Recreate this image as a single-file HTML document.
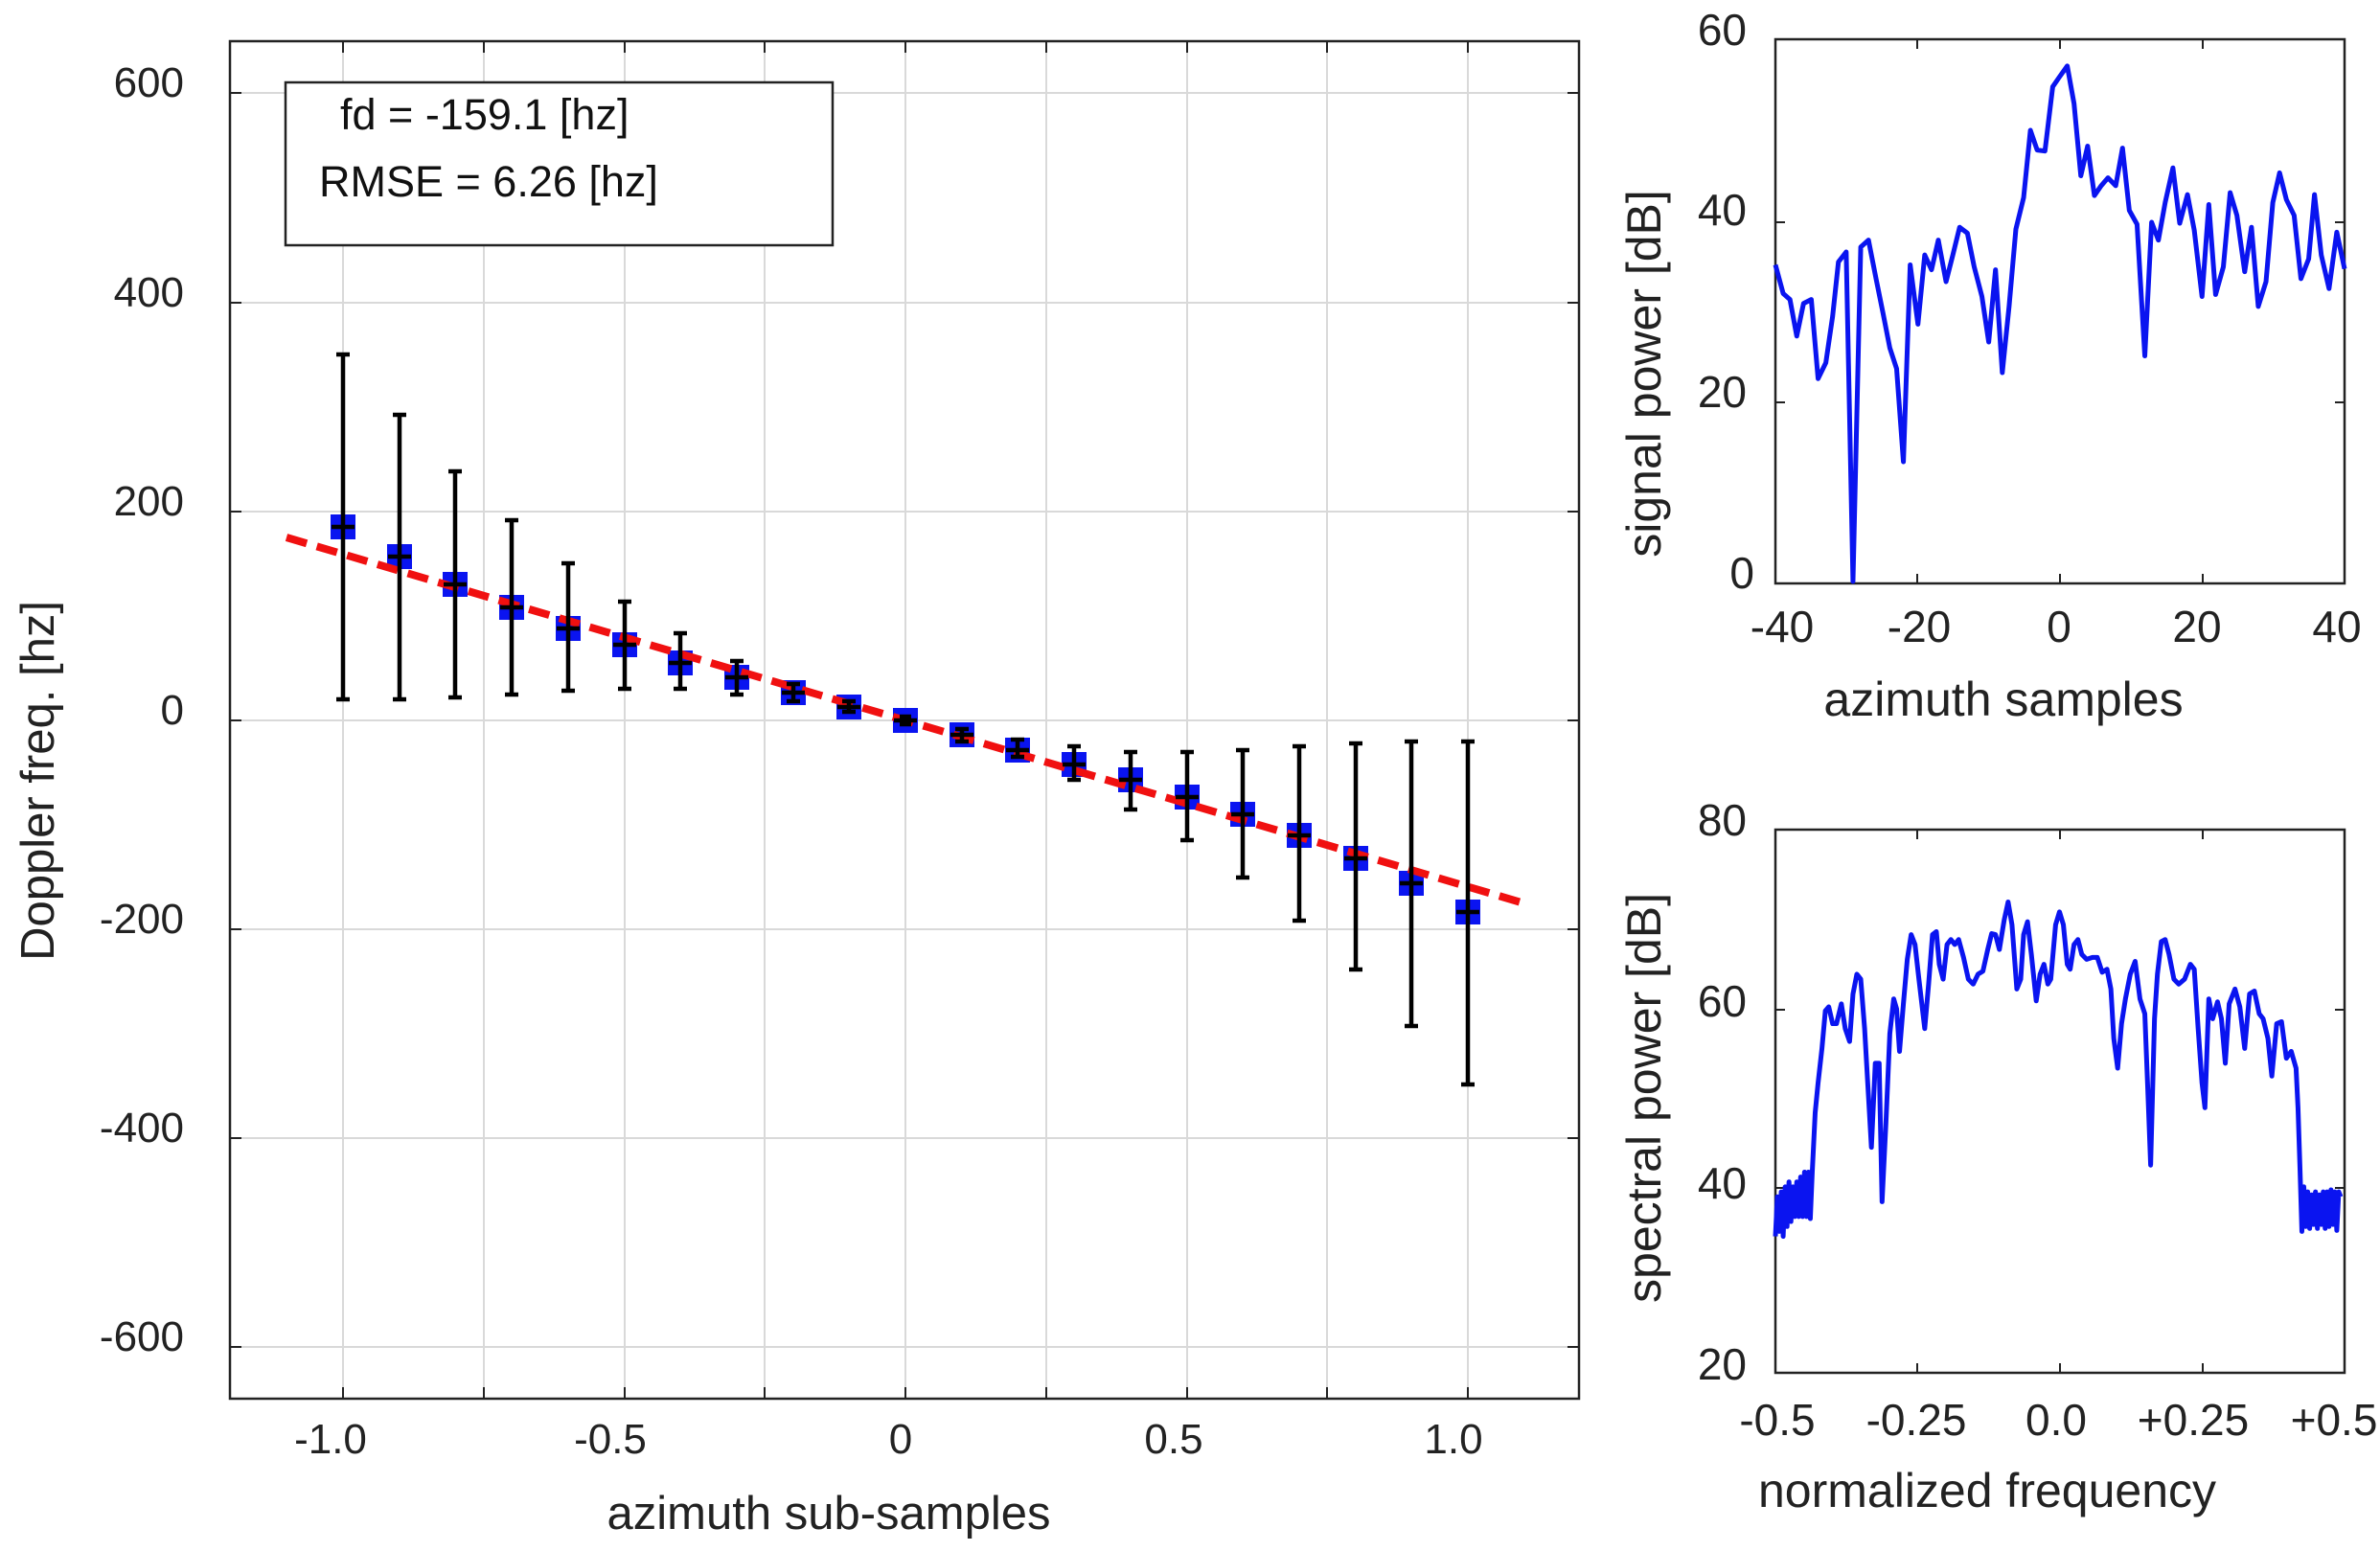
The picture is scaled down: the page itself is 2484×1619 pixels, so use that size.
<!DOCTYPE html>
<html><head><meta charset="utf-8"><style>
html,body{margin:0;padding:0;background:#fff;}
svg{display:block;font-family:"Liberation Sans",Arial,sans-serif;}
</style></head><body>
<svg width="2484" height="1619" viewBox="0 0 2484 1619" xmlns="http://www.w3.org/2000/svg">
<rect width="2484" height="1619" fill="#fff"/>
<!-- MAIN PLOT -->
<g stroke="#d9d9d9" stroke-width="2">
<line x1="358" y1="43" x2="358" y2="1460"/><line x1="505" y1="43" x2="505" y2="1460"/><line x1="652" y1="43" x2="652" y2="1460"/><line x1="798" y1="43" x2="798" y2="1460"/><line x1="945" y1="43" x2="945" y2="1460"/><line x1="1092" y1="43" x2="1092" y2="1460"/><line x1="1239" y1="43" x2="1239" y2="1460"/><line x1="1385" y1="43" x2="1385" y2="1460"/><line x1="1532" y1="43" x2="1532" y2="1460"/>
<line x1="240" y1="97" x2="1648" y2="97"/><line x1="240" y1="316" x2="1648" y2="316"/><line x1="240" y1="534" x2="1648" y2="534"/><line x1="240" y1="752" x2="1648" y2="752"/><line x1="240" y1="970" x2="1648" y2="970"/><line x1="240" y1="1188" x2="1648" y2="1188"/><line x1="240" y1="1406" x2="1648" y2="1406"/>
</g>
<g stroke="#222" stroke-width="2">
<path d="M358 43v12M505 43v12M652 43v12M798 43v12M945 43v12M1092 43v12M1239 43v12M1385 43v12M1532 43v12"/>
<path d="M358 1460v-12M505 1460v-12M652 1460v-12M798 1460v-12M945 1460v-12M1092 1460v-12M1239 1460v-12M1385 1460v-12M1532 1460v-12"/>
<path d="M240 97h12M240 316h12M240 534h12M240 752h12M240 970h12M240 1188h12M240 1406h12"/>
<path d="M1648 97h-12M1648 316h-12M1648 534h-12M1648 752h-12M1648 970h-12M1648 1188h-12M1648 1406h-12"/>
</g>
<rect x="240" y="43" width="1408" height="1417" fill="none" stroke="#222" stroke-width="2.5"/>
<g font-size="44" fill="#222" text-anchor="end">
<text x="192" y="101">600</text><text x="192" y="320">400</text><text x="192" y="538">200</text><text x="192" y="756">0</text><text x="192" y="974">-200</text><text x="192" y="1192">-400</text><text x="192" y="1410">-600</text>
</g>
<g font-size="44" fill="#222" text-anchor="middle">
<text x="345" y="1517">-1.0</text><text x="637" y="1517">-0.5</text><text x="940" y="1517">0</text><text x="1225" y="1517">0.5</text><text x="1517" y="1517">1.0</text>
<text x="865" y="1596" font-size="49">azimuth sub-samples</text>
<text transform="translate(56,815) rotate(-90)" font-size="49">Doppler freq. [hz]</text>
</g>
<rect x="298" y="86" width="571" height="170" fill="#fff" stroke="#222" stroke-width="2.5"/>
<text x="355" y="135" font-size="45" fill="#111">fd = -159.1 [hz]</text>
<text x="333" y="205" font-size="45" fill="#111">RMSE = 6.26 [hz]</text>
<!-- squares -->
<g fill="#0a14f0">
<rect x="345" y="537" width="26" height="26"/><rect x="404" y="568" width="26" height="26"/><rect x="462" y="597" width="26" height="26"/><rect x="521" y="621" width="26" height="26"/><rect x="580" y="643" width="26" height="26"/><rect x="639" y="660" width="26" height="26"/><rect x="697" y="679" width="26" height="26"/><rect x="756" y="694" width="26" height="26"/><rect x="815" y="710" width="26" height="26"/><rect x="873" y="725" width="26" height="26"/><rect x="932" y="739" width="26" height="26"/><rect x="991" y="754" width="26" height="26"/><rect x="1049" y="770" width="26" height="26"/><rect x="1108" y="785" width="26" height="26"/><rect x="1167" y="801" width="26" height="26"/><rect x="1226" y="819" width="26" height="26"/><rect x="1284" y="837" width="26" height="26"/><rect x="1343" y="859" width="26" height="26"/><rect x="1402" y="883" width="26" height="26"/><rect x="1460" y="909" width="26" height="26"/><rect x="1519" y="939" width="26" height="26"/>
</g>
<!-- red fit -->
<line x1="299" y1="561" x2="1591" y2="943" stroke="#f01010" stroke-width="8" stroke-dasharray="22 11"/>
<!-- error bars -->
<g stroke="#000" stroke-width="4.5" fill="none">
<path d="M358 370V730M351 370h14M351 730h14M346 550h24"/>
<path d="M417 433V730M410 433h14M410 730h14M405 581h24"/>
<path d="M475 492V728M468 492h14M468 728h14M463 610h24"/>
<path d="M534 543V725M527 543h14M527 725h14M522 634h24"/>
<path d="M593 588V721M586 588h14M586 721h14M581 656h24"/>
<path d="M652 628V719M645 628h14M645 719h14M640 673h24"/>
<path d="M710 661V719M703 661h14M703 719h14M698 692h24"/>
<path d="M769 690V725M762 690h14M762 725h14M757 707h24"/>
<path d="M828 714V732M821 714h14M821 732h14M816 723h24"/>
<path d="M886 732V743M879 732h14M879 743h14M874 738h24"/>
<path d="M945 748V756M939 748h12M939 756h12M933 752h24"/>
<path d="M1004 761V774M997 761h14M997 774h14M992 767h24"/>
<path d="M1062 772V790M1055 772h14M1055 790h14M1050 783h24"/>
<path d="M1121 779V814M1114 779h14M1114 814h14M1109 798h24"/>
<path d="M1180 785V845M1173 785h14M1173 845h14M1168 814h24"/>
<path d="M1239 785V877M1232 785h14M1232 877h14M1227 832h24"/>
<path d="M1297 783V916M1290 783h14M1290 916h14M1285 850h24"/>
<path d="M1356 779V961M1349 779h14M1349 961h14M1344 872h24"/>
<path d="M1415 776V1012M1408 776h14M1408 1012h14M1403 896h24"/>
<path d="M1473 774V1071M1466 774h14M1466 1071h14M1461 922h24"/>
<path d="M1532 774V1132M1525 774h14M1525 1132h14M1520 952h24"/>
</g>
<!-- RIGHT PLOTS -->
<g stroke="#222" stroke-width="2">
<path d="M2001 41v10M2150 41v10M2299 41v10M2001 609v-10M2150 609v-10M2299 609v-10"/>
<path d="M1853 232h10M1853 420h10M2447 232h-10M2447 420h-10"/>
<path d="M2001 866v10M2150 866v10M2299 866v10M2001 1433v-10M2150 1433v-10M2299 1433v-10"/>
<path d="M1853 1054h10M1853 1240h10M2447 1054h-10M2447 1240h-10"/>
</g>
<rect x="1853" y="41" width="594" height="568" fill="none" stroke="#222" stroke-width="2.5"/>
<rect x="1853" y="866" width="594" height="567" fill="none" stroke="#222" stroke-width="2.5"/>
<g font-size="46" fill="#222" text-anchor="end">
<text x="1823" y="47">60</text><text x="1823" y="235">40</text><text x="1823" y="425">20</text><text x="1831" y="614">0</text>
<text x="1823" y="872">80</text><text x="1823" y="1061">60</text><text x="1823" y="1251">40</text><text x="1823" y="1440">20</text>
</g>
<g font-size="46" fill="#222" text-anchor="middle">
<text x="1860" y="670">-40</text><text x="2003" y="670">-20</text><text x="2149" y="670">0</text><text x="2293" y="670">20</text><text x="2439" y="670">40</text>
<text x="2091" y="747" font-size="50">azimuth samples</text>
<text x="1855" y="1498">-0.5</text><text x="2000" y="1498">-0.25</text><text x="2146" y="1498">0.0</text><text x="2289" y="1498">+0.25</text><text x="2436" y="1498">+0.5</text>
<text x="2074" y="1573" font-size="50">normalized frequency</text>
<text transform="translate(1733,390) rotate(-90)" font-size="50">signal power [dB]</text>
<text transform="translate(1733,1146) rotate(-90)" font-size="50">spectral power [dB]</text>
</g>
<g transform="matrix(0.50596 0 0 1.0327 1700.2 -0.31)" fill="none" stroke="#0a14f0" stroke-width="5" stroke-linejoin="round" >
<polyline vector-effect="non-scaling-stroke" points="302,268 318,297 332,303 346,340 360,307 376,303 390,383 406,367 420,320 432,265 448,255 462,588 478,250 494,243 510,283 524,317 538,352 552,373 566,467 580,268 596,328 610,258 624,273 638,243 654,285 668,258 682,230 698,236 712,270 728,300 742,346 756,273 770,377 784,310 798,232 814,200 828,132 842,152 858,153 874,88 888,78 904,67 918,105 932,178 946,148 960,198 974,188 988,180 1004,188 1018,150 1032,213 1048,227 1064,360 1078,225 1092,243 1106,205 1122,170 1136,226 1152,197 1166,233 1182,300 1196,207 1210,298 1226,270 1240,195 1254,218 1270,275 1284,230 1298,310 1314,285 1328,205 1342,175 1356,202 1372,218 1386,282 1402,262 1414,197 1428,258 1444,292 1460,235 1476,272"/>
<polyline vector-effect="non-scaling-stroke" points="302,1250 306,1210 310,1245 314,1205 318,1250 322,1200 326,1240 330,1195 334,1235 338,1200 342,1230 346,1195 350,1230 354,1190 358,1230 362,1185 366,1230 370,1185 374,1232 378,1185 384,1125 390,1095 398,1060 405,1022 412,1018 420,1035 428,1035 438,1015 446,1040 455,1053 462,1005 470,985 478,990 486,1040 500,1160 508,1075 516,1075 522,1215 530,1135 538,1045 546,1010 552,1020 558,1063 566,1015 574,970 582,945 590,955 598,990 610,1040 618,995 626,945 634,942 640,975 648,990 656,955 664,950 672,955 680,950 690,968 700,990 710,995 720,985 730,982 740,960 748,944 756,945 764,960 774,930 782,912 790,935 800,1000 808,990 814,945 822,932 830,965 840,1012 848,985 856,975 864,995 870,990 880,935 888,922 896,935 904,975 910,980 918,955 926,950 934,965 944,970 956,968 966,968 976,983 986,980 994,1000 1000,1050 1008,1080 1016,1035 1024,1010 1034,985 1044,972 1054,1010 1064,1025 1070,1100 1076,1178 1084,1030 1090,985 1098,952 1106,950 1114,965 1124,990 1134,995 1146,990 1158,975 1166,980 1174,1040 1182,1095 1188,1120 1196,1010 1204,1030 1214,1013 1222,1030 1230,1075 1238,1015 1250,1000 1260,1018 1270,1060 1280,1005 1290,1002 1300,1025 1308,1030 1318,1050 1326,1088 1336,1035 1346,1033 1356,1070 1366,1063 1376,1080 1380,1120 1384,1180 1388,1245 1392,1200 1396,1240 1400,1205 1404,1242 1408,1208 1412,1238 1416,1205 1420,1242 1424,1208 1428,1238 1432,1205 1436,1242 1440,1205 1444,1240 1448,1203 1452,1238 1456,1205 1460,1244 1464,1205 1468,1210"/>
</g>
</svg>
</body></html>
